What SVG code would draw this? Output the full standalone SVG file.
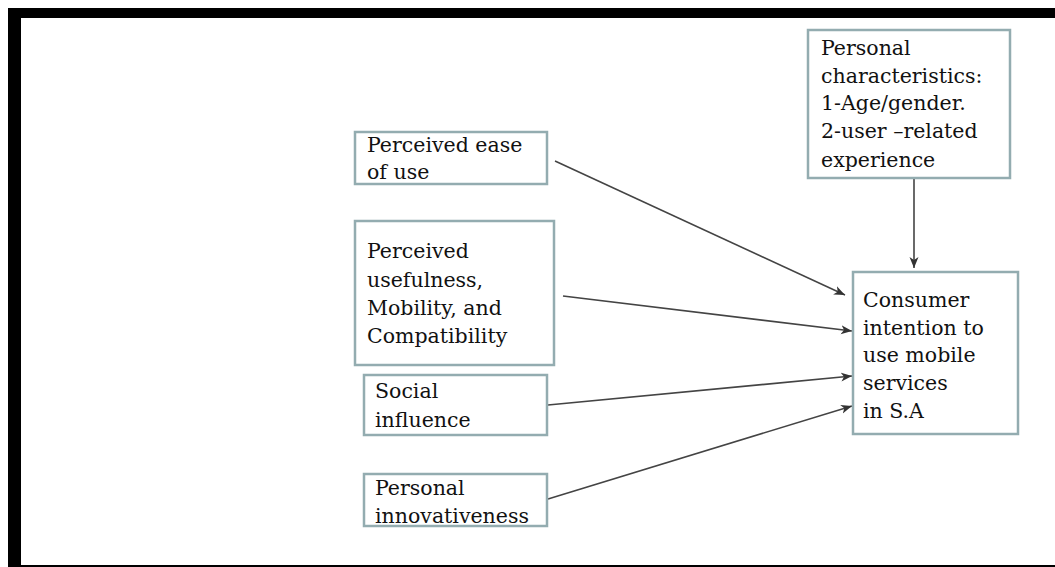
<svg xmlns="http://www.w3.org/2000/svg" width="1055" height="567" viewBox="0 0 1055 567">
<style>
.box{fill:#ffffff;stroke:#93acb0;stroke-width:2.5}
.t{font-family:"DejaVu Serif","Liberation Serif",serif;font-size:20.5px;fill:#111}
.c{fill:none;stroke:#444;stroke-width:1.6}
</style>
<defs>
<marker id="ah" viewBox="0 0 12 10" refX="11" refY="5" markerWidth="12" markerHeight="10" markerUnits="userSpaceOnUse" orient="auto">
<path d="M0,0.5 L11,5 L0,9.5 L3,5 Z" fill="#333"/>
</marker>
</defs>
<rect width="1055" height="567" fill="#ffffff"/>
<g id="frame" fill="#000">
<rect x="8" y="8" width="1047" height="10"/>
<rect x="8" y="8" width="13" height="559"/>
<rect x="8" y="565" width="1047" height="2"/>
</g>
<g id="connectors">
<line class="c" x1="555" y1="161" x2="845" y2="295" marker-end="url(#ah)"/>
<line class="c" x1="563" y1="296" x2="852" y2="331" marker-end="url(#ah)"/>
<line class="c" x1="548" y1="405" x2="852" y2="376" marker-end="url(#ah)"/>
<line class="c" x1="548" y1="499" x2="852" y2="406" marker-end="url(#ah)"/>
<line class="c" x1="914" y1="178" x2="914" y2="268" marker-end="url(#ah)"/>
</g>
<g id="ease">
<rect class="box" x="355" y="132" width="192" height="52"/>
<text class="t" x="367" y="152">Perceived ease</text>
<text class="t" x="367" y="179">of use</text>
</g>
<g id="usefulness">
<rect class="box" x="355" y="221" width="199" height="144"/>
<text class="t" x="367" y="258">Perceived</text>
<text class="t" x="367" y="287">usefulness,</text>
<text class="t" x="367" y="315">Mobility, and</text>
<text class="t" x="367" y="343">Compatibility</text>
</g>
<g id="social">
<rect class="box" x="364" y="375" width="183" height="60"/>
<text class="t" x="375" y="398">Social</text>
<text class="t" x="375" y="427">influence</text>
</g>
<g id="innovativeness">
<rect class="box" x="364" y="474" width="183" height="52"/>
<text class="t" x="375" y="495">Personal</text>
<text class="t" x="375" y="523">innovativeness</text>
</g>
<g id="characteristics">
<rect class="box" x="808" y="30" width="202" height="148"/>
<text class="t" x="821" y="55">Personal</text>
<text class="t" x="821" y="83">characteristics:</text>
<text class="t" x="821" y="110">1-Age/gender.</text>
<text class="t" x="821" y="138">2-user –related</text>
<text class="t" x="821" y="167">experience</text>
</g>
<g id="intention">
<rect class="box" x="853" y="272" width="165" height="162"/>
<text class="t" x="863" y="307">Consumer</text>
<text class="t" x="863" y="335">intention to</text>
<text class="t" x="863" y="362">use mobile</text>
<text class="t" x="863" y="390">services</text>
<text class="t" x="863" y="418">in S.A</text>
</g>
</svg>
